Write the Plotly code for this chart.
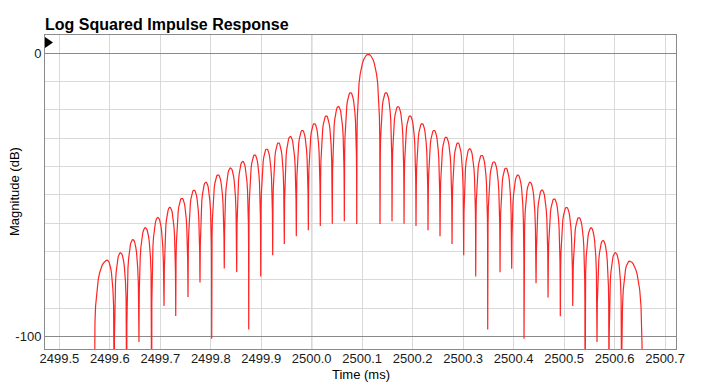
import plotly.graph_objects as go

# ---- data ----
# lobe boundaries (nulls) in ms, first/last are the window edges
NULL_TIME = [2499.5693, 2499.6089, 2499.6335, 2499.6578, 2499.6830, 2499.7074, 2499.7306,
             2499.7549, 2499.7787, 2499.8019, 2499.8268, 2499.8514, 2499.8752, 2499.8990,
             2499.9227, 2499.9457, 2499.9695, 2499.9933, 2500.0170, 2500.0408, 2500.0646,
             2500.0892, 2500.1353, 2500.1591, 2500.1829, 2500.2066, 2500.2304, 2500.2542,
             2500.2780, 2500.3011, 2500.3249, 2500.3487, 2500.3731, 2500.3962, 2500.4206,
             2500.4444, 2500.4682, 2500.4925, 2500.5171, 2500.5415, 2500.5652, 2500.5890,
             2500.6142, 2500.6550]
# depth of each null spike in dB (-130 = runs off the bottom of the chart)
NULL_DB = [-130, -130, -130, -102.0, -130, -89.3, -92.8, -86.1, -81.0, -100.8, -76.0,
           -77.3, -97.6, -78.8, -71.3, -67.4, -64.6, -62.5, -61.0, -60.2, -59.3, -60.3,
           -60.3, -59.3, -60.2, -61.0, -62.5, -64.6, -67.4, -71.3, -78.8, -97.6, -77.3,
           -76.1, -100.8, -81.2, -86.3, -92.9, -89.3, -130, -102.0, -130, -130, -130]
# lobe peaks
PEAK_TIME = [2499.5950, 2499.6212, 2499.6457, 2499.6704, 2499.6952, 2499.7190, 2499.7428,
             2499.7668, 2499.7903, 2499.8144, 2499.8391, 2499.8633, 2499.8871, 2499.9109,
             2499.9342, 2499.9576, 2499.9814, 2500.0052, 2500.0289, 2500.0527, 2500.0769,
             2500.1122, 2500.1472, 2500.1710, 2500.1948, 2500.2185, 2500.2423, 2500.2661,
             2500.2896, 2500.3130, 2500.3368, 2500.3609, 2500.3847, 2500.4084, 2500.4325,
             2500.4563, 2500.4804, 2500.5048, 2500.5293, 2500.5534, 2500.5771, 2500.6016,
             2500.6292]
PEAK_DB = [-73.1, -70.4, -65.8, -61.6, -58.0, -54.4, -51.2, -48.3, -45.5, -42.9, -40.5,
           -38.2, -35.9, -33.8, -31.6, -29.4, -27.2, -24.8, -22.1, -18.8, -13.9, -0.4,
           -13.9, -18.8, -22.1, -24.8, -27.2, -29.6, -31.6, -33.7, -36.0, -38.3, -40.5,
           -43.0, -45.5, -48.3, -51.4, -54.4, -58.0, -61.6, -66.1, -70.4, -73.4]
# shape of one side of a lobe: fraction of the way from null to peak, dB below the peak
LOBE_FRAC = [0.02, 0.05, 0.1, 0.2, 0.3, 0.4, 0.5, 0.6, 0.7, 0.8, 0.9, 1.0]
LOBE_REL_DB = [-30.1, -22.1, -16.1, -10.2, -6.9, -4.6, -3.0, -1.8, -1.0, -0.4, -0.1, 0.0]

X_TICKS = [2499.5, 2499.6, 2499.7, 2499.8, 2499.9, 2500.0, 2500.1, 2500.2, 2500.3,
           2500.4, 2500.5, 2500.6, 2500.7]
Y_TICKS = [0, -100]
Y_TICK_TEXT = ["0", "-100"]

# ---- assemble the curve ----
xs, ys = [], []
for i, (pt, pv) in enumerate(zip(PEAK_TIME, PEAK_DB)):
    a, b = NULL_TIME[i], NULL_TIME[i + 1]
    xs.append(a); ys.append(NULL_DB[i])
    for f, r in zip(LOBE_FRAC, LOBE_REL_DB):
        xs.append(a + f * (pt - a)); ys.append(pv + r)
    for f, r in zip(reversed(LOBE_FRAC[:-1]), reversed(LOBE_REL_DB[:-1])):
        xs.append(b - f * (b - pt)); ys.append(pv + r)
xs.append(NULL_TIME[-1]); ys.append(NULL_DB[-1])

FONT = "Liberation Sans, Arial, Helvetica, sans-serif"
DARK = "#8a8a8a"
LIGHT = "#d9d9d9"

# page body has an 8px margin, so the figure is drawn 8px in from the window corner
OFF = 8
W, H = 709 - OFF, 388 - OFF
L, T, R, B = 45 - OFF, 35 - OFF, 33, 39
PW, PH = W - L - R, H - T - B

fig = go.Figure()
fig.add_trace(go.Scatter(x=xs, y=ys, mode="lines",
                         line=dict(color="rgb(255,35,35)", width=1.2),
                         hoverinfo="skip", showlegend=False))

fig.update_layout(
    width=W, height=H,
    margin=dict(l=L, r=R, t=T, b=B, autoexpand=False),
    paper_bgcolor="white", plot_bgcolor="white",
    showlegend=False,
    font=dict(family=FONT, size=13, color="#1a1a1a"),
    title=dict(text="<b>Log Squared Impulse Response</b>", x=L / W, xanchor="left",
               xref="container", y=1 - (24 - OFF) / H, yanchor="middle", yref="container",
               font=dict(family=FONT, size=16, color="black")),
    xaxis=dict(range=[2499.4716, 2500.7217], tickmode="array", tickvals=X_TICKS,
               ticktext=[f"{v:.1f}" for v in X_TICKS],
               showgrid=True, gridcolor=LIGHT, gridwidth=1, zeroline=False,
               showline=True, linecolor=DARK, linewidth=1, mirror=True,
               ticks="", ticklabelstandoff=-3, tickfont=dict(size=13, color="#1a1a1a")),
    yaxis=dict(range=[-104.45, 6.46], tickmode="array", tickvals=Y_TICKS,
               ticktext=Y_TICK_TEXT,
               showgrid=True, gridcolor=DARK, gridwidth=1, zeroline=False,
               showline=True, linecolor=DARK, linewidth=1, mirror=True,
               ticks="", ticklabelstandoff=0, tickfont=dict(size=13, color="#1a1a1a"),
               minor=dict(tickmode="linear", tick0=0, dtick=10, showgrid=True,
                          gridcolor=LIGHT, gridwidth=1, ticks="")),
    shapes=[
        dict(type="line", xref="x", yref="paper", x0=2500.0, x1=2500.0, y0=0, y1=1,
             line=dict(color=DARK, width=1), layer="below"),
        dict(type="path", xref="paper", yref="paper",
             path=f"M 0,{1 - 2 / PH} L {8 / PW},{1 - 7.5 / PH} L 0,{1 - 13 / PH} Z",
             fillcolor="black", line=dict(color="black", width=0), layer="above"),
    ],
    annotations=[
        dict(text="Time (ms)", xref="paper", yref="paper", x=0.5, y=-(374 - 349) / PH,
             xanchor="center", yanchor="middle", showarrow=False,
             font=dict(family=FONT, size=13, color="black")),
        dict(text="Magnitude (dB)", xref="paper", yref="paper", x=-(45 - 14) / PW,
             y=0.5, xanchor="center", yanchor="middle", textangle=-90, showarrow=False,
             font=dict(family=FONT, size=13, color="black")),
    ],
)

fig.write_html("out.html")
